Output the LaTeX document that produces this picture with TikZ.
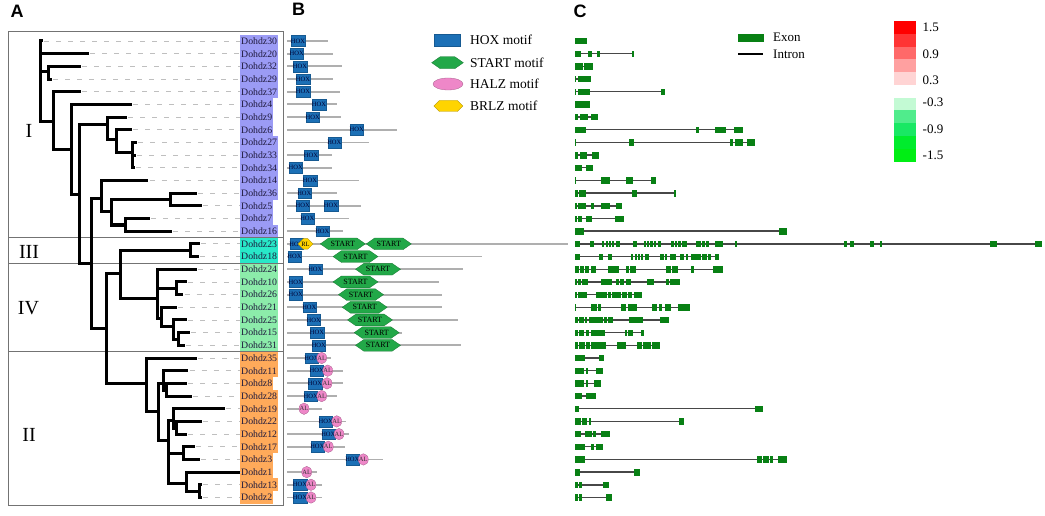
\documentclass[tikz,border=0pt]{standalone}
\usepackage{fontspec}
\setmainfont{Liberation Serif}
\newfontfamily\panelfont{Liberation Sans}
\usetikzlibrary{shapes.geometric,shapes.symbols}

\definecolor{gI}{RGB}{155,155,245}
\definecolor{gIII}{RGB}{40,232,200}
\definecolor{gIV}{RGB}{140,236,170}
\definecolor{gII}{RGB}{255,170,90}
\definecolor{hoxblue}{RGB}{28,112,182}
\definecolor{startgreen}{RGB}{34,168,72}
\definecolor{halzpink}{RGB}{238,135,200}
\definecolor{brlzyellow}{RGB}{255,212,0}
\definecolor{exongreen}{RGB}{8,128,20}
\definecolor{protgray}{RGB}{175,175,175}
\definecolor{labtext}{RGB}{30,25,60}

\begin{document}
\begin{tikzpicture}[%
x=1pt, y=-1pt,
declare function={rowy(\n)=41+(\n-1)*12.68;},
branch/.style={line width=3pt, line cap=rect},
leafdash/.style={gray!50, line width=0.8pt, dash pattern=on 5pt off 7pt},
lab/.style={anchor=west, inner xsep=1pt, inner ysep=0pt, minimum height=12.8pt, text=labtext, font=\fontsize{9.8}{10}\selectfont},
frameline/.style={draw=black!55, line width=0.8pt},
clade/.style={font=\fontsize{20}{20}\selectfont},
panel/.style={font=\panelfont\bfseries\fontsize{18}{18}\selectfont},
pline/.style={protgray, line width=1.8pt},
hoxbox/.style={rectangle, fill=hoxblue, draw=hoxblue!80!black, line width=0.3pt, minimum width=13.3pt, minimum height=10.7pt, inner sep=0pt, text=blue!20!black, font=\fontsize{6.5}{6.5}\selectfont},
startmotif/.style={signal, signal to=east and west, signal pointer angle=70, fill=startgreen, draw=startgreen!70!black, line width=0.3pt, minimum width=45pt, minimum height=11.7pt, inner sep=0pt, font=\fontsize{8}{8}\selectfont},
halzmotif/.style={ellipse, fill=halzpink, draw=halzpink!70!black, line width=0.3pt, minimum width=10pt, minimum height=11.5pt, inner sep=0pt, text=black!80, font=\fontsize{6.5}{6.5}\selectfont},
brlzmotif/.style={signal, signal to=east and west, signal pointer angle=90, fill=brlzyellow, draw=brlzyellow!70!black, line width=0.3pt, minimum width=15pt, minimum height=10.5pt, inner sep=0pt, font=\fontsize{6.5}{6.5}\selectfont},
legtext/.style={anchor=west, inner sep=0pt, font=\fontsize{13.5}{13.5}\selectfont},
exon/.style={fill=exongreen, draw=exongreen, line width=0.6pt},
intron/.style={draw=black!72, line width=1.4pt},
]
\useasboundingbox (0,0) rectangle (1045,516);

%% panel letters;
\node[panel] (pA) at (17,11) {A};
\node[panel] (pB) at (298.5,9.5) {B};
\node[panel] (pC) at (580,11) {C};

%% leaves and labels;
\foreach \g/\tx/\col [count=\i] in {30/41/gI, 20/87/gI, 32/79/gI, 29/50/gI, 37/79/gI, 4/130/gI, 9/125/gI, 6/130/gI, 27/135/gI, 33/134/gI, 34/133/gI, 14/146.7/gI, 36/195/gI, 5/200/gI, 7/148/gI, 16/170/gI, 23/198/gIII, 18/197/gIII, 24/195/gIV, 10/185/gIV, 26/181.7/gIV, 21/175/gIV, 25/185/gIV, 15/188/gIV, 31/183/gIV, 35/195/gII, 11/186.7/gII, 8/185/gII, 28/190/gII, 19/223/gII, 22/200/gII, 12/185/gII, 17/193/gII, 3/198/gII, 1/238/gII, 13/200/gII, 2/200/gII}
{
  \coordinate (t\g) at (\tx,{rowy(\i)});
  \node[lab, fill=\col] (l\g) at (240,{rowy(\i)}) {Dohdz\g};
  \draw[leafdash] ([xshift=3pt]t\g) -- (l\g.west);
}

%% frame;
\draw[frameline] (8,31) rectangle (283,505.7);
\draw[frameline] (8,237.5) -- (283,237.5);
\draw[frameline] (8,262.9) -- (283,262.9);
\draw[frameline] (8,351.6) -- (283,351.6);
\node[clade] (cI) at (29,131) {I};
\node[clade] (cIII) at (29,251.5) {III};
\node[clade] (cIV) at (28.5,308) {IV};
\node[clade] (cII) at (29,435) {II};

%% tree;
\foreach \n/\nx/\ny in {nR0/40/41, n3229/48/72, nP/53.3/121.7, nQ/71.7/150, nR/79/195, nS/107.3/125, nU/116/140, nV/132.5/153, nA/91.7/263, nJ/101.7/198.3, nK/111.7/211.7, nL/170.7/200, nM/125/225, nB/106.7/328, nC/120/273.3, nIII/190/250, nIV/157/298.3, n1026/176.7/288, n21/161.7/318, n25/173.3/326, n1531/178/339, nD/146.7/383.3, nE/158.3/411.7, nF/163.3/383, n828/166.7/390, nG/168/440, nH/173.3/420, n2212/176.7/428, n173/183.3/453, nI/186.7/483, n132/199/491}
  \coordinate (\n) at (\nx,\ny);
\foreach \p/\c in {nR0/t30, nR0/t20, nR0/n3229, nR0/nP, n3229/t32, n3229/t29, nP/t37, nP/nQ, nQ/t4, nQ/nR, nR/nS, nR/nA, nS/t9, nS/nU, nU/t6, nU/nV, nV/t27, nV/t33, nV/t34, nA/nJ, nA/nB, nJ/t14, nJ/nK, nK/nL, nK/nM, nL/t36, nL/t5, nM/t7, nM/t16, nB/nC, nB/nD, nC/nIII, nC/nIV, nIII/t23, nIII/t18, nIV/t24, nIV/n1026, nIV/n21, n1026/t10, n1026/t26, n21/t21, n21/n25, n25/t25, n25/n1531, n1531/t15, n1531/t31, nD/t35, nD/nE, nE/nF, nE/nG, nF/t11, nF/n828, n828/t8, n828/t28, nG/nH, nG/n173, nG/nI, nH/t19, nH/n2212, n2212/t22, n2212/t12, n173/t17, n173/t3, nI/t1, nI/n132, n132/t13, n132/t2}
  \draw[branch] (\p) |- (\c);

%% proteins;
\foreach \e [count=\i] in {328.3, 333.3, 341.7, 333.3, 340, 336.7, 340.7, 396.7, 369.3, 331.7, 331.7, 359, 337.3, 360.7, 349, 342.7, 568, 481.7, 462.7, 439.3, 441.7, 442.3, 458.3, 401.7, 461, 330.7, 343.3, 342.7, 336.7, 322.3, 346, 349.3, 345, 382.7, 316.7, 322.3, 322.3}
  \draw[pline] (287,{rowy(\i)}) -- (\e,{rowy(\i)});
\foreach \r/\cx [count=\k] in {1/298, 2/296.7, 3/300, 4/303, 5/303, 6/319, 7/312.7, 8/356.7, 9/334.3, 10/311, 11/295.7, 12/310, 13/304.3, 14/302.7, 14/331, 15/307.3, 16/322.3, 17/296.4, 18/294.5, 19/315.3, 20/295.7, 21/295.7, 22/309.3, 23/313.7, 24/317, 25/318.8, 26/311.5, 27/316.7, 28/315, 29/310.7, 31/325.7, 32/328.3, 33/317.3, 34/352.3, 36/300, 37/300}
  \node[hoxbox] (hox\k) at (\cx,{rowy(\r)}) {\makebox[0pt]{HOX}};
\node[brlzmotif] (brlz1) at (305.5,{rowy(17)}) {\makebox[0pt]{RL}};
\foreach \r/\cx [count=\k] in {26/321.7, 27/327.7, 28/327, 29/321.7, 30/304, 31/336.7, 32/339, 33/328.3, 34/363.3, 35/306.7, 36/311, 37/311}
  \node[halzmotif] (halz\k) at (\cx,{rowy(\r)}) {\makebox[0pt]{AL}};
\foreach \r/\cx [count=\k] in {17/342.8, 17/388.8, 18/355.5, 19/378, 20/355.5, 21/361, 22/364.7, 23/370, 24/376.7, 25/378}
  \node[startmotif] (start\k) at (\cx,{rowy(\r)}) {\makebox[0pt]{START}};

%% motif legend;
\node[hoxbox, minimum width=26pt, minimum height=12pt] (leghox) at (447,40) {};
\node[legtext] (leghoxt) at (470,40) {HOX motif};
\node[startmotif, minimum width=31.7pt, minimum height=12pt] (legstart) at (447.5,62.7) {};
\node[legtext] (legstartt) at (470,62.7) {START motif};
\node[halzmotif, minimum width=30pt, minimum height=12pt] (leghalz) at (448,84) {};
\node[legtext] (leghalzt) at (470,84) {HALZ motif};
\node[brlzmotif, minimum width=29pt, minimum height=11pt] (legbrlz) at (448.3,106) {};
\node[legtext] (legbrlzt) at (470,106) {BRLZ motif};

%% gene structures;
\begin{scope}[shift={(560,0)}, x=0.33333pt]
\foreach \e/\ex [count=\i] in {
80/{45/80},
221/{45/60, 85/93, 113/117, 218/221},
97/{45/68, 73/97},
90/{45/47, 55/90},
313/{45/47, 55/87, 305/313},
88/{45/88},
112/{45/52, 60/82, 93/112},
547/{45/77, 410/415, 465/497, 523/547},
582/{45/47, 207/220, 510/518, 525/548, 563/582},
116/{45/52, 60/80, 97/116},
98/{45/65, 80/98},
287/{45/47, 123/148, 200/218, 275/287},
347/{45/52, 57/75, 217/230, 342/347},
185/{45/50, 55/75, 95/100, 125/147, 170/185},
190/{45/50, 55/65, 80/95, 165/190},
680/{45/70, 658/680},
1443/{45/58, 90/100, 127/130, 138/141, 148/151, 158/161, 170/178, 220/228, 252/256, 262/266, 272/276, 282/286, 295/302, 333/340, 345/350, 355/360, 368/380, 410/420, 428/432, 438/444, 465/488, 525/528, 852/858, 870/880, 932/940, 960/963, 1290/1310, 1425/1443},
474/{45/58, 118/128, 145/155, 215/218, 225/228, 235/238, 245/248, 255/265, 300/310, 315/320, 330/345, 360/370, 378/382, 395/420, 427/440, 445/452, 467/474},
487/{45/55, 60/70, 75/85, 95/105, 145/175, 200/205, 210/225, 320/330, 338/352, 395/400, 460/487},
357/{45/50, 55/60, 68/82, 125/155, 168/175, 180/190, 198/210, 262/280, 320/325, 330/357},
245/{45/50, 55/80, 110/140, 145/150, 158/165, 170/180, 188/200, 205/215, 222/245},
388/{45/46, 95/108, 115/120, 185/195, 205/230, 278/288, 297/305, 315/332, 355/360, 365/388},
325/{45/52, 57/70, 75/80, 88/128, 133/140, 145/157, 208/248, 302/325},
250/{45/52, 57/70, 78/85, 93/133, 195/200, 205/218, 245/250},
298/{45/52, 57/72, 80/88, 95/135, 173/180, 183/197, 232/245, 250/270, 277/298},
130/{45/72, 118/130},
127/{45/70, 78/82, 108/127},
120/{45/70, 78/82, 103/120},
105/{45/65, 80/85, 88/105},
607/{45/55, 587/607},
370/{45/60, 68/80, 88/92, 358/370},
147/{45/62, 75/95, 100/105, 125/147},
128/{45/72, 95/100, 108/128},
678/{45/72, 592/605, 610/625, 632/637, 655/678},
237/{45/57, 222/237},
145/{45/52, 57/65, 130/145},
155/{45/52, 57/65, 140/155}}
{
  \draw[intron] (45,{rowy(\i)}) -- (\e,{rowy(\i)});
  \foreach \a/\b in \ex
    \filldraw[exon] (\a,{rowy(\i)-2.7}) rectangle (\b,{rowy(\i)+2.7});
}
\end{scope}

%% gene legend;
\filldraw[exon] (738.3,34.5) rectangle (763.3,41.5);
\node[legtext, font=\fontsize{13}{13}\selectfont] (legexon) at (773,37.5) {Exon};
\draw[line width=1.6pt] (738.3,54.3) -- (763.3,54.3);
\node[legtext, font=\fontsize{13}{13}\selectfont] (legintron) at (773,54.3) {Intron};

%% colour scale;
\foreach \rc [count=\k] in {{255,0,0}, {255,52,52}, {255,105,105}, {255,160,160}, {255,212,212}}
{
  \definecolor{scalecol}{RGB}{\rc}
  \fill[scalecol] (894,{21+(\k-1)*12.8}) rectangle (915.7,{21+\k*12.8});
}
\foreach \gc [count=\k] in {{195,250,212}, {80,236,140}, {25,232,100}, {0,236,45}, {0,238,20}}
{
  \definecolor{scalecol}{RGB}{\gc}
  \fill[scalecol] (894,{97.7+(\k-1)*12.8}) rectangle (915.7,{97.7+\k*12.8});
}
\foreach \v/\vy in {1.5/27.5, 0.9/54.3, 0.3/80, -0.3/102.2, -0.9/129.3, -1.5/155}
  \node[legtext, font=\fontsize{13}{13}\selectfont] at (922.5,\vy) {\v};
\end{tikzpicture}
\end{document}
